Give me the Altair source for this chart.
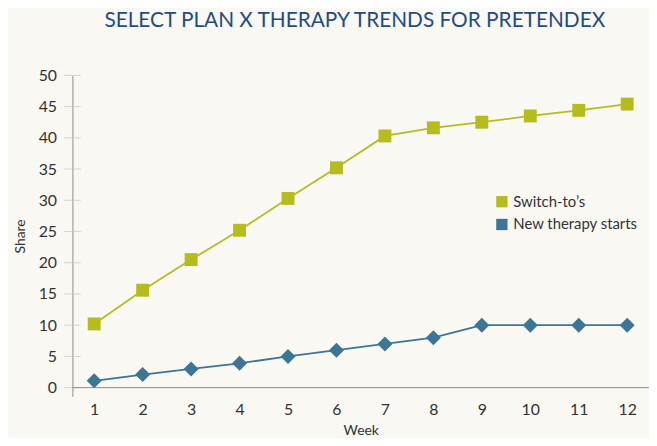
import altair as alt
import pandas as pd

weeks = list(range(1, 13))
switch_tos = [10.2, 15.6, 20.5, 25.2, 30.3, 35.2, 40.3, 41.6, 42.5, 43.5, 44.4, 45.4]
new_starts = [1.1, 2.1, 3.0, 3.9, 5.0, 6.0, 7.0, 8.0, 10.0, 10.0, 10.0, 10.0]
series = ["Switch-to’s", "New therapy starts"]
colors = ["#b5bd1d", "#3b7697"]
y_ticks = [0, 5, 10, 15, 20, 25, 30, 35, 40, 45, 50]

rows = []
for s, vals in zip(series, [switch_tos, new_starts]):
    for w, v in zip(weeks, vals):
        rows.append({"Week": w, "Share": v, "Series": s})
df = pd.DataFrame(rows)
ticks_df = pd.DataFrame({"t": y_ticks})

FONT = "Lato, Open Sans, sans-serif"

xs = alt.Scale(domain=[0.55, 12.45], nice=False, zero=False)
ys = alt.Scale(domain=[-1.4, 50], nice=False, zero=False)

x_axis = alt.Axis(
    values=weeks, ticks=False, domain=False, grid=False, format="d",
    labelPadding=5, labelFontSize=16, labelColor="#333333", labelFont=FONT,
    labelOverlap=False,
    title="Week", titleFontSize=14, titleFontWeight="normal", titleColor="#333333",
    titleFont=FONT, titlePadding=6,
)
y_axis = alt.Axis(
    values=y_ticks, ticks=False, grid=False, domainColor="#8c8c8c",
    labelPadding=16, labelFontSize=16, labelColor="#333333", labelFont=FONT,
    labelOverlap=False, labelFlush=False,
    title="Share", titleFontSize=14, titleFontWeight="normal", titleColor="#333333",
    titleFont=FONT, titlePadding=11,
)

color = alt.Color(
    "Series:N",
    scale=alt.Scale(domain=series, range=colors),
    legend=alt.Legend(
        title=None, symbolType="square", orient="none", legendX=426, legendY=120,
        labelFontSize=15, labelColor="#333333", symbolSize=130, rowPadding=7,
        labelFont=FONT, symbolStrokeWidth=0,
    ),
)

base = alt.Chart(df)
X = alt.X("Week:Q", scale=xs, axis=x_axis)
Y = alt.Y("Share:Q", scale=ys, axis=y_axis)
T = alt.Y("t:Q", scale=ys, axis=y_axis)

line = base.mark_line(strokeWidth=1.8).encode(x=X, y=Y, color=color)

sq_points = base.transform_filter(alt.datum.Series == series[0]).mark_point(
    filled=True, opacity=1, size=170, shape="square"
).encode(x=X, y=Y, color=color)

dm_points = base.transform_filter(alt.datum.Series == series[1]).mark_point(
    filled=True, opacity=1, size=230, shape="diamond"
).encode(x=X, y=Y, color=color)

zero_rule = alt.Chart(ticks_df).transform_filter(alt.datum.t == 0).mark_rule(
    color="#8c8c8c", strokeWidth=1
).encode(y=T)

tick_marks = alt.Chart(ticks_df).mark_tick(color="#c4c4c4", thickness=1, size=17).encode(
    y=T,
    x=alt.value(0),
)

chart = alt.layer(line, tick_marks, zero_rule, sq_points, dm_points).properties(
    width=582,
    height=324,
    autosize=alt.AutoSizeParams(type="none"),
    padding={"left": 65, "top": 66, "right": 0, "bottom": 40},
    background="#f9f8f2",
    title=alt.Title(
        "SELECT PLAN X THERAPY TRENDS FOR PRETENDEX",
        fontSize=21, font=FONT, color="#1f4b8a", fontWeight="normal",
        anchor="middle", frame="group", offset=37, dx=-6,
    ),
).configure_view(stroke=None)

chart.save("out.html", embed_options={"renderer": "svg", "actions": False})
